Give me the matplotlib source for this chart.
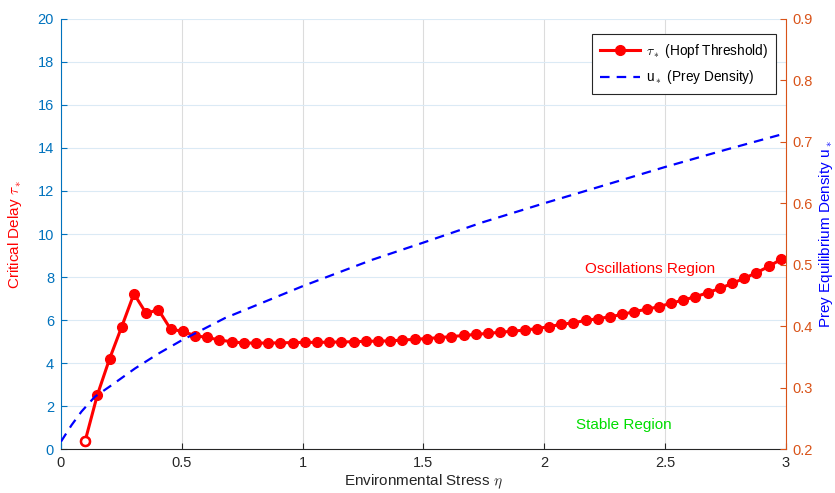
import matplotlib
matplotlib.use("Agg")
import matplotlib.pyplot as plt
import numpy as np

plt.rcParams['font.family'] = ['Liberation Sans', 'DejaVu Sans']
plt.rcParams['mathtext.fontset'] = 'cm'

# tau_* sampled on a regular stress grid
eta = np.linspace(0.1, 2.98, 58)
tau_star = [0.37, 2.51, 4.19, 5.69, 7.22, 6.31, 6.48, 5.58, 5.47, 5.27,
            5.19, 5.07, 4.99, 4.93, 4.93, 4.93, 4.94, 4.95, 4.96, 4.96,
            4.97, 4.98, 4.99, 5.01, 5.02, 5.03, 5.07, 5.10, 5.14, 5.18,
            5.23, 5.28, 5.33, 5.38, 5.43, 5.48, 5.53, 5.60, 5.69, 5.80,
            5.87, 5.98, 6.06, 6.15, 6.26, 6.39, 6.50, 6.62, 6.78, 6.93,
            7.08, 7.27, 7.47, 7.70, 7.94, 8.20, 8.49, 8.82]

# prey equilibrium density u_*
eta_u = [0.0, 0.044, 0.085, 0.14, 0.21, 0.306, 0.402, 0.5, 0.678, 1.0,
         1.288, 1.5, 1.745, 2.0, 2.179, 2.5, 2.75, 3.0]
u_star = [0.212, 0.239, 0.261, 0.285, 0.304, 0.331, 0.355, 0.377, 0.413, 0.465,
          0.508, 0.536, 0.569, 0.600, 0.621, 0.659, 0.687, 0.714]

LEFT_C = '#0072BD'
RIGHT_C = '#D95319'
DARK = '#262626'

fig = plt.figure(figsize=(8.35, 4.93), dpi=100)
ax = fig.add_axes([0.073, 0.0892, 0.868, 0.8723])
ax2 = ax.twinx()

# red threshold curve
l1, = ax.plot(eta, tau_star, '-o', color='red', lw=2.2, markersize=7,
              markerfacecolor='red', markeredgecolor='red', zorder=4)
ax.plot(eta[0], tau_star[0], 'o', color='red', markersize=6.5,
        markerfacecolor='white', markeredgewidth=1.8, zorder=5)

# blue dashed density curve
l2, = ax2.plot(eta_u, u_star, color='#0000FF', lw=1.6,
               linestyle=(0, (4.3, 3.2)), zorder=3)

ax.set_xlim(0, 3)
ax.set_ylim(0, 20)
ax2.set_ylim(0.2, 0.9)
ax.set_xticks([0, 0.5, 1, 1.5, 2, 2.5, 3])
ax.set_xticklabels(['0', '0.5', '1', '1.5', '2', '2.5', '3'])
ax.set_yticks(np.arange(0, 21, 2))
ax2.set_yticks(np.arange(0.2, 0.91, 0.1))
ax2.set_yticklabels(['0.2', '0.3', '0.4', '0.5', '0.6', '0.7', '0.8', '0.9'])

# grids
ax.xaxis.grid(True, color='#dcdcdc', lw=0.8)
ax.yaxis.grid(True, color='#dbeaf5', lw=0.8)
ax.set_axisbelow(True)

ax.tick_params(axis='x', direction='in', colors=DARK, labelsize=10.5, length=4, pad=5)
ax.tick_params(axis='y', direction='in', colors=LEFT_C, labelsize=10.5, length=4, pad=5)
ax2.tick_params(axis='y', direction='in', colors=RIGHT_C, labelsize=10.5, length=4, pad=5)

for a in (ax, ax2):
    a.spines['top'].set_visible(False)
ax.spines['left'].set_color(LEFT_C)
ax.spines['bottom'].set_color(DARK)
ax.spines['right'].set_visible(False)
ax2.spines['left'].set_visible(False)
ax2.spines['bottom'].set_visible(False)
ax2.spines['right'].set_color(RIGHT_C)

ax.set_xlabel(r'Environmental Stress $\eta$', fontsize=11, color=DARK, labelpad=2)
ax.set_ylabel(r'Critical Delay $\tau_*$', fontsize=11, color='red', labelpad=10)
ax2.set_ylabel(r'Prey Equilibrium Density u$_*$', fontsize=11, color='#0000FF', labelpad=3)

ax.text(2.44, 8.37, 'Oscillations Region', color='red', fontsize=11,
        ha='center', va='center')
ax.text(2.33, 1.1, 'Stable Region', color='#00DD00', fontsize=11,
        ha='center', va='center')

leg = ax2.legend([l1, l2], [r'$\tau_*$ (Hopf Threshold)', r'u$_*$ (Prey Density)'],
                 loc='upper right', bbox_to_anchor=(0.986, 0.965), borderaxespad=0,
                 fontsize=9.8, frameon=True, fancybox=False, framealpha=1,
                 edgecolor=DARK, handlelength=3.0, handletextpad=0.4,
                 borderpad=0.55, labelspacing=0.65)
leg.get_frame().set_linewidth(0.8)

fig.savefig('out.png', dpi=100)
